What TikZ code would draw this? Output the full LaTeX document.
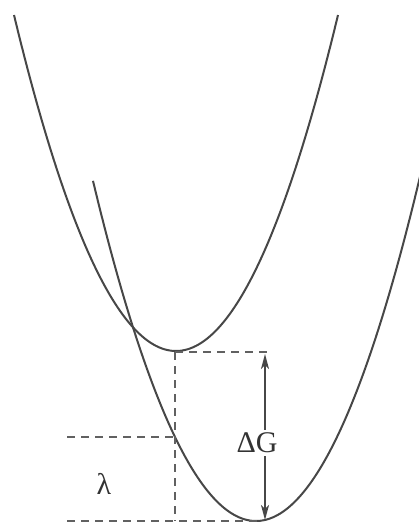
\documentclass[tikz,border=0pt]{standalone}
\usepackage{fontspec}
\setmainfont{Liberation Serif}
\usetikzlibrary{arrows.meta}
\begin{document}
\begin{tikzpicture}[x=1pt,y=-1pt,
  curve/.style={line width=2pt,draw=black!72},
  dashline/.style={line width=1.8pt,draw=black!62,dash pattern=on 8pt off 6pt},
  dimarrow/.style={line width=1.5pt,draw=black!72,-{Stealth[length=15pt,width=8pt,inset=4pt]}},
  lbl/.style={font=\fontsize{30}{32}\selectfont,text=black!80,inner sep=0pt}]
\useasboundingbox (0,0) rectangle (419,527);
\clip (0,0) rectangle (419,527);
% parabolas
\draw[curve] plot[domain=14:338,samples=120,smooth] (\x,{351-0.0128*(\x-176)*(\x-176)});
\draw[curve] plot[domain=93:425,samples=120,smooth] (\x,{521-0.0128*(\x-256)*(\x-256)});
% key points
\coordinate (vtop) at (175,352);
\coordinate (topr) at (272,352);
\coordinate (cross) at (175,437);
\coordinate (midl) at (67,437);
\coordinate (corner) at (175,521);
\coordinate (botl) at (67,521);
\coordinate (botr) at (262,521);
% dashed lines
\draw[dashline] (vtop) -- (topr);
\draw[dashline] (vtop) -- (corner);
\draw[dashline] (midl) -- (cross);
\draw[dashline] (botl) -- (botr);
% Delta G
\coordinate (atop) at (265,354);
\coordinate (abot) at (265,520);
\node[lbl] (dg) at (257,443) {ΔG};
\draw[dimarrow] (dg.north -| atop) ++(0,-3) -- (atop);
\draw[dimarrow] (dg.south -| abot) ++(0,3) -- (abot);
% lambda
\node[lbl] (lam) at (104,484) {λ};
\end{tikzpicture}
\end{document}
